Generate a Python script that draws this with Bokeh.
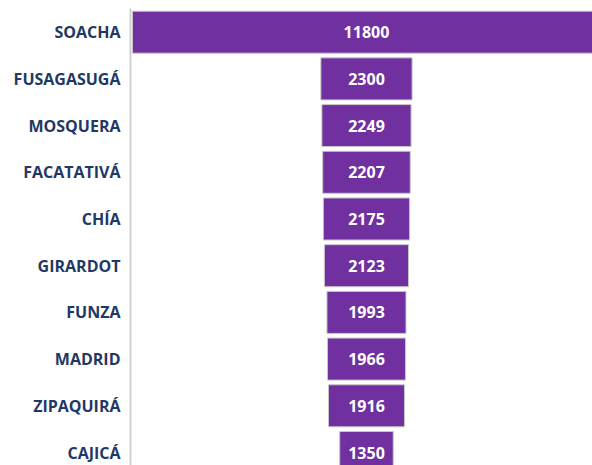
from bokeh.plotting import figure
from bokeh.models import Range1d, FixedTicker, ColumnDataSource
from bokeh.embed import file_html
from bokeh.resources import INLINE
from bokeh.core.properties import value

municipios = ["SOACHA", "FUSAGASUGÁ", "MOSQUERA", "FACATATIVÁ", "CHÍA",
              "GIRARDOT", "FUNZA", "MADRID", "ZIPAQUIRÁ", "CAJICÁ"]
valores = [11800, 2300, 2249, 2207, 2175, 2123, 1993, 1966, 1916, 1350]

vmax = max(valores)
idx = list(range(len(municipios)))
src = ColumnDataSource(dict(
    y=idx,
    left=[(vmax - v) / 2 for v in valores],
    right=[(vmax + v) / 2 for v in valores],
    mid=[vmax / 2 for v in valores],
    label=[str(v) for v in valores],
))

p = figure(width=592, height=465, output_backend="svg", toolbar_location=None,
           x_range=Range1d(-50, 11599), y_range=Range1d(9.278, -0.507),
           min_border_left=130, min_border_right=0, min_border_top=8, min_border_bottom=0)
p.outline_line_color = None
p.xgrid.visible = False
p.ygrid.visible = False
p.xaxis.visible = False
p.background_fill_color = "white"

p.hbar(y="y", left="left", right="right", height=0.9, source=src,
       fill_color="#7030A0", line_color="#C8C8C8", line_width=1)
p.text(x="mid", y="y", text="label", source=src, text_color="white",
       text_font=value("Open Sans"), text_font_style="bold", text_font_size="16px",
       text_align="center", text_baseline="middle")

ya = p.yaxis[0]
ya.ticker = FixedTicker(ticks=idx)
ya.major_label_overrides = {i: m for i, m in zip(idx, municipios)}
ya.major_tick_line_color = None
ya.minor_tick_line_color = None
ya.major_tick_out = 0
ya.major_tick_in = 0
ya.major_label_standoff = 10
ya.axis_line_color = "#D0D0D0"
ya.axis_line_width = 2
ya.major_label_text_font = "Open Sans"
ya.major_label_text_font_style = "bold"
ya.major_label_text_font_size = "16px"
ya.major_label_text_color = "#1F3864"

open("out.html", "w").write(file_html(p, INLINE))
